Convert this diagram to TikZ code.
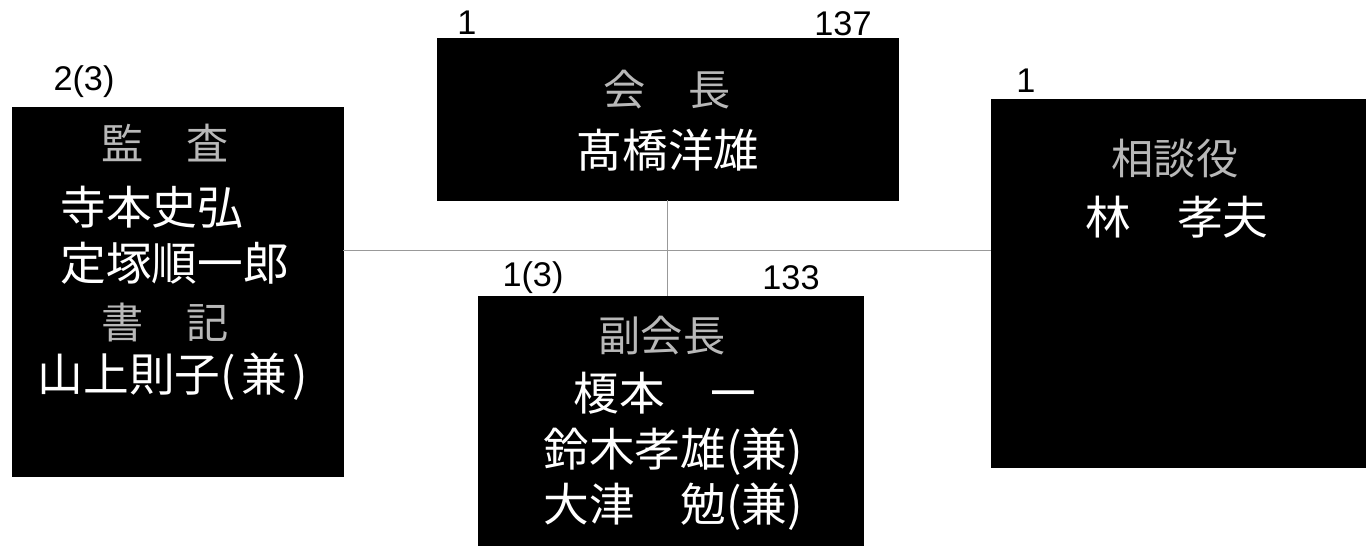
\documentclass[tikz,border=0pt]{standalone}
\usepackage{fontspec}
\setmainfont{Liberation Sans}
\newfontfamily\jpfont{Noto Sans CJK JP}
\usepackage{tikz}

\begin{document}
\begin{tikzpicture}[
	kasti/.style={rectangle, fill=black, draw=black, inner sep=0pt},
	otsikko/.style={inner sep=0pt, text=white!72!black, font=\jpfont\fontsize{24}{28}\selectfont},
	nimi/.style={inner sep=0pt, text=white, font=\jpfont\fontsize{26}{30}\selectfont},
	numero/.style={inner sep=0pt, font=\fontsize{19.5}{22}\selectfont},
	viiva/.style={draw=gray!80, line width=0.5pt}
	]
	\useasboundingbox (0,0) rectangle (27.32,11);
	
	% Kastit
	\node[kasti, minimum width=6.62cm, minimum height=7.38cm] (kansa) at (3.55,5.17) {};  % 監査
	\node[kasti, minimum width=9.22cm, minimum height=3.24cm] (kaicho) at (13.35,8.62) {};  % 会長
	\node[kasti, minimum width=7.70cm, minimum height=4.98cm] (fukukaicho) at (13.41,2.59) {};  % 副会長
	\node[kasti, minimum width=7.50cm, minimum height=7.36cm] (sodanyaku) at (23.57,5.34) {};  % 相談役
	
	% Viivat
	\coordinate (risteys) at (13.34,6.0);
	\draw[viiva] (kansa.east |- risteys) -- (sodanyaku.west |- risteys);
	\draw[viiva] (kaicho.south) -- (kaicho.south |- fukukaicho.north);
	
	% 監査
	\node[otsikko] (kansaT) at (3.30,8.14) {監　査};
	\node[nimi, anchor=west] (kansa1) at (1.20,6.86) {寺本史弘};
	\node[nimi, anchor=west] (kansa2) at (1.20,5.74) {定塚順一郎};
	\node[otsikko] (shokiT) at (3.30,4.54) {書　記};
	\node[nimi] (shoki1) at (3.46,3.46) {山上則子(\hspace{0.12em}兼\hspace{0.12em})};
	
	% 会長
	\node[otsikko] (kaichoT) at (13.34,9.20) {会　長};
	\node[nimi] (kaicho1) at (13.36,8.00) {髙橋洋雄};
	
	% 副会長
	\node[otsikko] (fukuT) at (13.24,4.28) {副会長};
	\node[nimi] (fuku1) at (13.30,3.14) {榎本　一};
	\node[nimi] (fuku2) at (13.46,1.96) {鈴木孝雄(兼)};
	\node[nimi] (fuku3) at (13.46,0.86) {大津　勉(兼)};
	
	% 相談役
	\node[otsikko] (sodanT) at (23.50,7.82) {相談役};
	\node[nimi] (sodan1) at (23.54,6.66) {林　孝夫};
	
	% Numerot
	\node[numero] (n1) at (1.68,9.36) {2(3)};
	\node[numero] (n2) at (9.34,10.54) {1};
	\node[numero] (n3) at (16.86,10.52) {137};
	\node[numero] (n4) at (20.52,9.38) {1};
	\node[numero] (n5) at (10.66,5.44) {1(3)};
	\node[numero] (n6) at (15.82,5.44) {133};
\end{tikzpicture}
\end{document}
